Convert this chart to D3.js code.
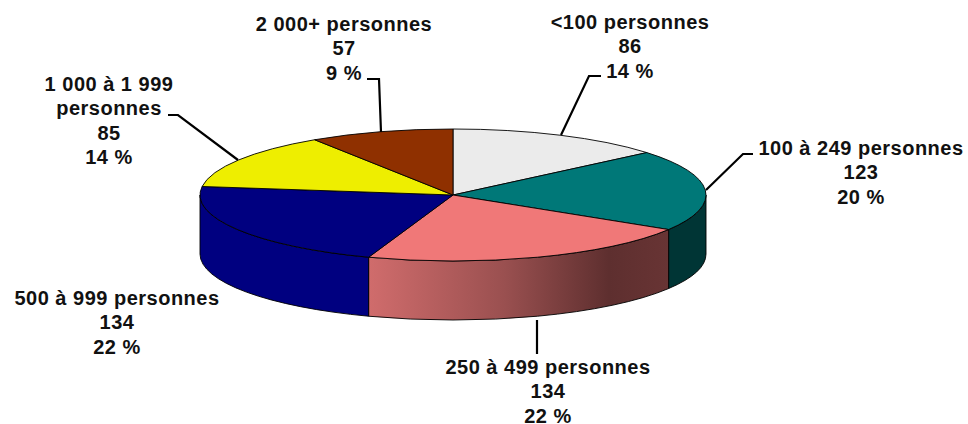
<!DOCTYPE html>
<html><head><meta charset="utf-8">
<script src="https://cdn.jsdelivr.net/npm/d3@7"></script>
<style>html,body{margin:0;background:#fff}svg{display:block}text{font-family:"Liberation Sans",Arial,sans-serif;font-weight:700;font-size:20px;letter-spacing:.5px;fill:#111}</style>
</head><body><svg id="c" width="968" height="424"></svg>
<script>
const categories=["<100 personnes","100 à 249 personnes","250 à 499 personnes","500 à 999 personnes","1 000 à 1 999 personnes","2 000+ personnes"];
const values=[86,123,134,134,85,57];
const percents=["14 %","20 %","22 %","22 %","14 %","9 %"];
const topColors=["#ebebeb","#007878","#f07878","#000080","#eeee00","#8f3000"];
const sideColors=["#767676","#003535","url(#pinkSide)","#000080","#777700","#481800"];
const labelLines=[["<100 personnes"],["100 à 249 personnes"],["250 à 499 personnes"],["500 à 999 personnes"],["1 000 à 1 999","personnes"],["2 000+ personnes"]];
const labelAnchors=[[630,29],[861,155],[548,374],[117,305],[109,91],[344,31]];
const leaders=[[[561,135],[589,76],[601,76]],[[706,190],[743,154],[753,154]],[[537,320],[537,354]],null,[[238,160],[178,115],[168,115]],[[381,132],[379,79],[367,79]]];

const W=968,H=424,cx=453,cy=195,rx=253,ry=66,depth=59,lineStep=24.4;
const svg=d3.select("#c");
const defs=svg.append("defs");
const g=defs.append("linearGradient").attr("id","pinkSide").attr("gradientUnits","userSpaceOnUse").attr("x1",369).attr("x2",669).attr("y1",0).attr("y2",0);
g.append("stop").attr("offset",0).attr("stop-color","#d06c6c");
g.append("stop").attr("offset",.45).attr("stop-color","#9a5050");
g.append("stop").attr("offset",.8).attr("stop-color","#5e2f2f");
g.append("stop").attr("offset",1).attr("stop-color","#683434");

const arcs=d3.pie().sort(null).value(d=>d)(values);
const px=a=>cx+rx*Math.sin(a), py=a=>cy-ry*Math.cos(a);

// front wall: only the part of each slice between 90° and 270° faces the viewer
const wall=svg.append("g");
arcs.forEach((d,i)=>{
  const a0=Math.max(d.startAngle,Math.PI/2),a1=Math.min(d.endAngle,3*Math.PI/2);
  if(a1<=a0)return;
  const path=`M${px(a0)},${py(a0)}A${rx},${ry} 0 0 1 ${px(a1)},${py(a1)}L${px(a1)},${py(a1)+depth}A${rx},${ry} 0 0 0 ${px(a0)},${py(a0)+depth}Z`;
  wall.append("path").attr("d",path).attr("fill",sideColors[i]).attr("stroke","#000").attr("stroke-width",.9);
});
const topG=svg.append("g").attr("transform",`translate(${cx},${cy}) scale(1,${ry/rx})`);
const arc=d3.arc().innerRadius(0).outerRadius(rx);
topG.selectAll("path").data(arcs).join("path").attr("d",arc)
  .attr("fill",(d,i)=>topColors[i]).attr("stroke","#000").attr("stroke-width",.9).attr("vector-effect","non-scaling-stroke");

const line=d3.line();
svg.append("g").selectAll("path").data(leaders.filter(Boolean)).join("path")
  .attr("d",line).attr("fill","none").attr("stroke","#000").attr("stroke-width",2.2);

const tg=svg.append("g");
labelLines.forEach((ls,i)=>{
  const rows=[...ls,String(values[i]),percents[i]];
  const t=tg.append("text").attr("text-anchor","middle");
  rows.forEach((r,k)=>t.append("tspan").attr("x",labelAnchors[i][0]).attr("y",labelAnchors[i][1]+k*lineStep).text(r));
});
</script></body></html>
